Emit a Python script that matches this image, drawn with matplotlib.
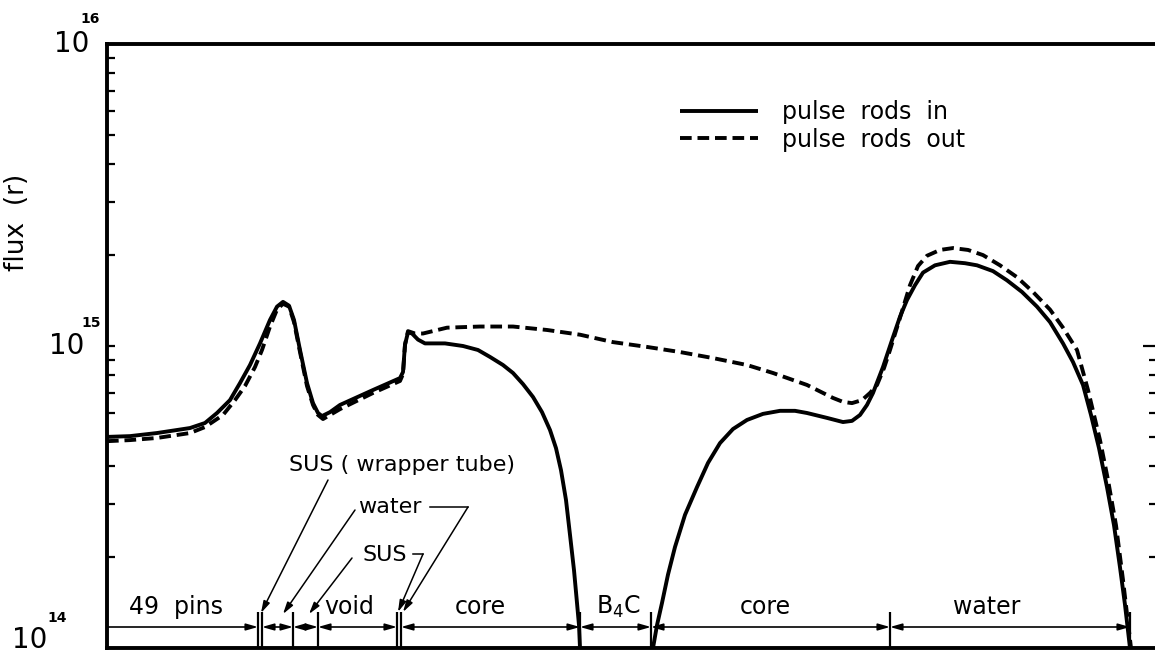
import numpy as np
import matplotlib
matplotlib.use("Agg")
import matplotlib.pyplot as plt
from matplotlib.ticker import FixedLocator, NullFormatter, NullLocator

plt.rcParams['font.family'] = ['DejaVu Sans']

# ---------------- data (position r in arbitrary units, flux in units of 1e14) ----------------
pos_in_left = [0.0, 2.3, 5.0, 8.3, 9.8, 11.0, 12.3, 13.3, 14.3, 15.3, 16.3, 17.0, 17.6, 18.2, 18.7,
               19.3, 20.0, 20.6, 21.1, 21.5, 22.3, 23.3, 26.6, 29.3, 29.6, 29.8, 30.1, 30.5, 31.1, 31.8,
               33.8, 35.6, 37.1, 38.3, 39.6, 40.6, 41.6, 42.6, 43.5, 44.3, 44.9, 45.4, 45.9, 46.3, 46.7,
               47.0, 47.2, 47.3]
flux_in_left = [5.00, 5.03, 5.15, 5.35, 5.56, 6.00, 6.62, 7.54, 8.65, 10.2, 12.2, 13.5, 14.0, 13.6, 12.2,
                9.70, 7.54, 6.47, 6.00, 5.86, 6.04, 6.38, 7.15, 7.83, 8.20, 10.1, 11.1, 11.0, 10.5, 10.2,
                10.2, 10.0, 9.70, 9.20, 8.65, 8.14, 7.48, 6.78, 6.04, 5.27, 4.59, 3.88, 3.09, 2.37, 1.81,
                1.41, 1.19, 1.00]

pos_in_right = [54.6, 55.0, 55.5, 56.1, 56.8, 57.8, 59.0, 60.1, 61.3, 62.6, 64.0, 65.6, 67.3, 68.8, 70.0,
                72.0, 73.6, 74.5, 75.3, 76.0, 76.6, 77.6, 78.6, 79.3, 80.0, 80.8, 81.6, 82.8, 84.3, 85.8,
                87.0, 88.6, 90.0, 91.5, 93.0, 94.3, 95.6, 96.6, 97.6, 98.4, 99.2, 100.0, 100.7, 101.3,
                101.8, 102.3]
flux_in_right = [1.00, 1.19, 1.41, 1.75, 2.16, 2.76, 3.41, 4.10, 4.77, 5.31, 5.69, 5.96, 6.10, 6.10, 6.00,
                 5.78, 5.60, 5.65, 5.91, 6.38, 6.99, 8.52, 10.7, 12.5, 14.2, 15.9, 17.5, 18.5, 19.0, 18.8,
                 18.5, 17.7, 16.5, 15.1, 13.5, 12.0, 10.2, 8.85, 7.43, 5.91, 4.59, 3.41, 2.55, 1.85,
                 1.39, 1.00]

pos_out = [0.0, 2.3, 5.0, 8.3, 9.8, 11.6, 12.8, 13.8, 14.8, 15.5, 16.3, 17.0, 17.6, 18.2, 18.7,
           19.3, 20.0, 20.6, 21.1, 21.6, 22.3, 23.3, 26.6, 29.3, 29.6, 29.8, 30.1, 30.8, 31.6, 34.0,
           37.3, 40.6, 44.0, 47.3, 50.6, 54.0, 57.3, 60.6, 64.0, 66.6, 70.0, 72.6, 73.6, 74.5, 75.5,
           76.3, 77.0, 77.7, 78.3, 79.3, 80.3, 81.1, 82.0, 83.3, 84.6, 86.1, 87.6, 89.3, 91.0, 92.6,
           94.3, 95.6, 97.0, 98.1, 99.3, 100.1, 100.9, 101.6, 102.4]
flux_out = [4.84, 4.88, 4.96, 5.15, 5.39, 5.91, 6.62, 7.37, 8.52, 9.70, 11.6, 13.2, 13.8, 13.5, 12.0,
            9.55, 7.37, 6.38, 5.91, 5.73, 5.91, 6.18, 6.99, 7.66, 8.07, 10.1, 11.2, 11.0, 11.0, 11.5,
            11.6, 11.6, 11.3, 10.9, 10.3, 9.93, 9.55, 9.12, 8.65, 8.14, 7.43, 6.73, 6.53, 6.47, 6.62,
            6.99, 7.43, 8.45, 9.70, 12.4, 15.9, 18.4, 19.9, 20.8, 21.1, 20.8, 20.0, 18.5, 16.9, 15.1,
            13.2, 11.5, 9.70, 7.15, 4.88, 3.60, 2.55, 1.68, 1.00]

# region boundaries (same position units) and region names
boundaries = [15.1, 15.5, 18.6, 21.1, 29.0, 29.4, 47.3, 54.4, 78.3, 102.3]
region_names = ["49  pins", "void", "core", "B$_4$C", "core", "water"]
region_centers = [6.9, 24.2, 37.3, 51.1, 65.8, 88.0]

legend_labels = ["pulse  rods  in", "pulse  rods  out"]
decades = [1e14, 1e15, 1e16]
decade_exps = ["14", "15", "16"]

# ---------------- layout helpers ----------------
W, H = 1155, 662
X0, X1 = 107, 1157          # pixel of x=0 and right edge
Y0, YT = 648, 44            # pixel of 1e14 and 1e16


def X(px):
    return (px - X0) / 10.0


def Y(py):
    return 1e14 * 10 ** ((Y0 - py) / ((Y0 - YT) / 2.0))


fig = plt.figure(figsize=(W / 100, H / 100), dpi=100)
ax = fig.add_axes([X0 / W, 1 - Y0 / H, (X1 - X0) / W, (Y0 - YT) / H])
ax.set_yscale('log')
ax.set_xlim(0, (X1 - X0) / 10.0)
ax.set_ylim(1e14, 1e16)

lw = 2.8
xi = pos_in_left + [np.nan] + pos_in_right
fi = [v * 1e14 for v in flux_in_left] + [np.nan] + [v * 1e14 for v in flux_in_right]
ax.plot(xi, fi, color='black', lw=lw, solid_capstyle='butt', label=legend_labels[0], zorder=3)
ax.plot(pos_out, [v * 1e14 for v in flux_out], color='black', lw=lw, dashes=(3.0, 1.5),
        label=legend_labels[1], zorder=3)

# spines / ticks
for s in ['left', 'bottom', 'top']:
    ax.spines[s].set_linewidth(2.8)
ax.spines['right'].set_visible(False)
ax.xaxis.set_major_locator(NullLocator())
ax.xaxis.set_minor_locator(NullLocator())
ax.yaxis.set_major_locator(FixedLocator(decades))
ax.yaxis.set_minor_locator(FixedLocator([k * 10 ** e for e in (14, 15) for k in range(2, 10)]))
ax.yaxis.set_major_formatter(NullFormatter())
ax.yaxis.set_minor_formatter(NullFormatter())
ax.tick_params(axis='y', which='both', direction='in', length=6, width=1.6, left=True, right=False)

# right-side ticks, only on the lower decade
tw = ax.twinx()
tw.set_yscale('log')
tw.set_ylim(1e14, 1e16)
for s in tw.spines.values():
    s.set_visible(False)
tw.yaxis.set_major_locator(FixedLocator([1e15]))
tw.yaxis.set_minor_locator(FixedLocator([k * 1e14 for k in range(2, 10)]))
tw.yaxis.set_major_formatter(NullFormatter())
tw.yaxis.set_minor_formatter(NullFormatter())
tw.tick_params(axis='y', which='minor', direction='in', length=6, width=1.6)
tw.tick_params(axis='y', which='major', direction='in', length=10, width=1.6)

# decade labels (10 with exponent)
ytr = ax.get_yaxis_transform()
base_pos = [(30, 640), (67, 346), (72, 44)]
exp_pos = [(57, 618), (91, 323), (90, 19)]
for d, e, (bx, by), (ex, ey) in zip(decades, decade_exps, base_pos, exp_pos):
    ax.text((bx - X0) / 1050, Y(by), "10", transform=ytr, ha='center', va='center',
            fontsize=20, clip_on=False)
    ax.text((ex - X0) / 1050, Y(ey), e, transform=ytr, ha='center', va='center',
            fontsize=10, fontweight='bold', clip_on=False)

ax.set_ylabel("flux  (r)", fontsize=19, rotation=90)
ax.yaxis.set_label_coords((30 - X0) / 1050, (Y0 - 222) / (Y0 - YT))

# legend
leg = ax.legend(loc='upper left', bbox_to_anchor=(680 / W, 1 - 100 / H), bbox_transform=fig.transFigure,
                frameon=False, fontsize=17, handlelength=3.3, handletextpad=1.0, labelspacing=0.15,
                borderpad=0, borderaxespad=0)

# ---------------- bottom region annotations ----------------
y_dim = Y(627)
ax.vlines(boundaries, Y(612), 1e14, color='black', lw=1.6, zorder=2)
arrow_kw = dict(color='black', lw=1.2, shrinkA=0, shrinkB=0, mutation_scale=10)
segs = [(0, boundaries[0], '-|>')]
pairs = [(1, 2), (2, 3), (3, 4), (5, 6), (6, 7), (7, 8), (8, 9)]
for a, b in pairs:
    segs.append((boundaries[a], boundaries[b], '<|-|>'))
for a, b, st in segs:
    ax.annotate('', xy=(b, y_dim), xytext=(a, y_dim),
                arrowprops=dict(arrowstyle=st + ',head_length=0.7,head_width=0.2', **arrow_kw))
for name, cx in zip(region_names, region_centers):
    ax.text(cx, Y(607), name, ha='center', va='center', fontsize=17)

# leader annotations
ann_fs = 16
ax.text(X(402), Y(465), "SUS ( wrapper tube)", ha='center', va='center', fontsize=ann_fs)
ax.text(X(390), Y(507), "water", ha='center', va='center', fontsize=ann_fs)
ax.text(X(385), Y(555), "SUS", ha='center', va='center', fontsize=ann_fs)

lead_kw = dict(arrowstyle='-|>,head_length=0.7,head_width=0.2', color='black', lw=1.1,
               shrinkA=0, shrinkB=0, mutation_scale=10)
ax.annotate('', xy=(X(261), Y(613)), xytext=(X(328), Y(480)), arrowprops=lead_kw)
ax.annotate('', xy=(X(283), Y(614)), xytext=(X(355), Y(510)), arrowprops=lead_kw)
ax.annotate('', xy=(X(309), Y(614)), xytext=(X(352), Y(558)), arrowprops=lead_kw)
ax.plot([X(430), X(468)], [Y(507), Y(507)], color='black', lw=1.1)
ax.annotate('', xy=(X(403), Y(612)), xytext=(X(468), Y(507)), arrowprops=lead_kw)
ax.plot([X(413), X(423)], [Y(554), Y(554)], color='black', lw=1.1)
ax.annotate('', xy=(X(398), Y(612)), xytext=(X(423), Y(554)), arrowprops=lead_kw)

fig.savefig("out.png", dpi=100)
